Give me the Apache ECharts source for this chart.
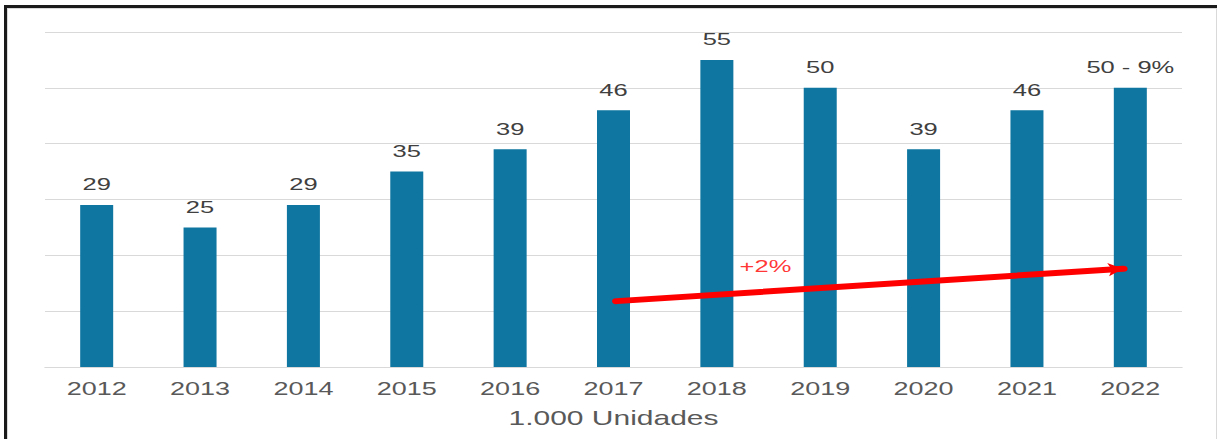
<!DOCTYPE html>
<html>
<head>
<meta charset="utf-8">
<script src="https://cdn.jsdelivr.net/npm/echarts@6/dist/echarts.min.js"></script>
<style>
  html, body { margin: 0; padding: 0; background: #fff; width: 1218px; height: 439px; overflow: hidden; }
  .frame { position: absolute; left: 4px; top: 5px; width: 1213px; height: 450px; box-sizing: border-box;
           border-top: 3px solid #1a1a1a; border-left: 3px solid #1a1a1a; }
  .frame-inner { position: absolute; left: 0; top: 0; right: 0; bottom: 0; border: 1px solid #d9d9d9; border-bottom: none; }
  /* the reference is stretched sideways, so draw narrow and widen */
  #main { position: absolute; left: 0; top: 0; width: 812px; height: 439px; transform: scaleX(1.5); transform-origin: 0 0; }
</style>
</head>
<body>
<div class="frame"><div class="frame-inner"></div></div>
<div id="main"></div>
<script>
const years = ['2012', '2013', '2014', '2015', '2016', '2017', '2018', '2019', '2020', '2021', '2022']
const units = [29, 25, 29, 35, 39, 46, 55, 50, 39, 46, 50]
const barLabels = ['29', '25', '29', '35', '39', '46', '55', '50', '39', '46', '50 - 9%']
// trend arrow, x in category index units, y in axis units
const trendStart = [5.03, 11.8]
const trendEnd = [9.93, 17.6]
const trendText = '+2%'
const trendTextPos = [6.47, 18.1]

const chart = echarts.init(document.getElementById('main'), null, { renderer: 'svg' })

const option = {
  animation: false,
  grid: { left: 30, right: 24, top: 32, height: 335 },
  xAxis: [
    {
      type: 'category',
      data: years,
      axisLine: { lineStyle: { color: '#d9d9d9', width: 1 } },
      axisTick: { show: false },
      axisLabel: { color: '#595959', fontSize: 18, fontFamily: 'Liberation Sans, Arial', margin: 13 },
      name: '1.000 Unidades',
      nameLocation: 'middle',
      nameGap: 41,
      nameTextStyle: { color: '#595959', fontSize: 20, fontFamily: 'Liberation Sans, Arial' }
    },
    {
      type: 'value',
      min: -0.5,
      max: 10.5,
      show: false
    }
  ],
  yAxis: {
    type: 'value',
    min: 0,
    max: 60,
    interval: 10,
    axisLabel: { show: false },
    axisLine: { show: false },
    axisTick: { show: false },
    splitLine: { lineStyle: { color: '#d9d9d9', width: 1 } }
  },
  series: [
    {
      type: 'bar',
      data: units,
      barWidth: 22,
      itemStyle: { color: '#0E76A0' },
      label: {
        show: true,
        position: 'top',
        distance: 12,
        color: '#404040',
        fontSize: 17,
        fontFamily: 'Liberation Sans, Arial',
        formatter: p => barLabels[p.dataIndex]
      }
    },
    {
      type: 'scatter',
      xAxisIndex: 1,
      data: [trendTextPos],
      symbolSize: 0,
      label: {
        show: true,
        position: 'inside',
        formatter: trendText,
        color: '#ff0000',
        fontSize: 17,
        fontFamily: 'Liberation Sans, Arial'
      },
      markLine: {
        silent: true,
        symbol: ['none', 'arrow'],
        symbolSize: [10, 10],
        label: { show: false },
        lineStyle: { color: '#ff0000', width: 6, type: 'solid', cap: 'round' },
        data: [[{ coord: trendStart }, { coord: trendEnd }]]
      }
    }
  ]
}

chart.setOption(option)
</script>
</body>
</html>
